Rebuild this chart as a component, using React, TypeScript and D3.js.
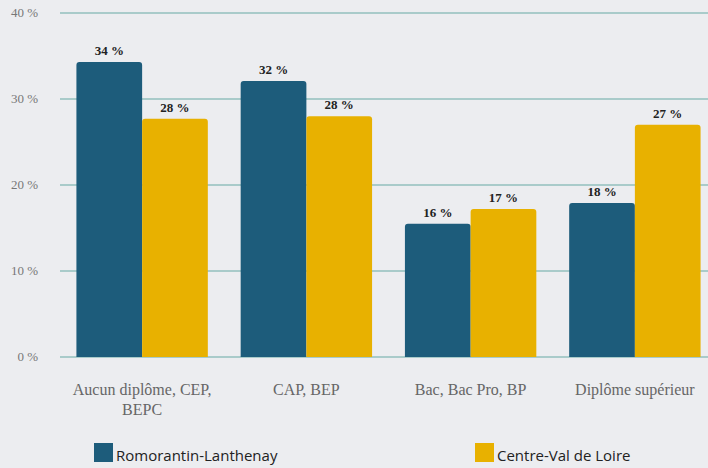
import React from 'react';
import * as d3 from 'd3';

const categories = ['Aucun diplôme, CEP, BEPC', 'CAP, BEP', 'Bac, Bac Pro, BP', 'Diplôme supérieur'];
const categoryLines = [['Aucun diplôme, CEP,', 'BEPC'], ['CAP, BEP'], ['Bac, Bac Pro, BP'], ['Diplôme supérieur']];
const seriesNames = ['Romorantin-Lanthenay', 'Centre-Val de Loire'];
const romorantin = [34.3, 32.1, 15.5, 17.9];
const centreVal = [27.7, 28.0, 17.2, 27.0];
const romorantinLabels = ['34 %', '32 %', '16 %', '18 %'];
const centreValLabels = ['28 %', '28 %', '17 %', '27 %'];
const yTicks = [0, 10, 20, 30, 40];

const W = 708;
const H = 468;
const colors = ['#1d5c7b', '#e8b100'];
const serif = '"Liberation Serif", "Times New Roman", serif';

function topRoundedRect(x: number, y: number, w: number, h: number, r: number) {
  const p = d3.path();
  p.moveTo(x, y + h);
  p.lineTo(x, y + r);
  p.arcTo(x, y, x + r, y, r);
  p.lineTo(x + w - r, y);
  p.arcTo(x + w, y, x + w, y + r, r);
  p.lineTo(x + w, y + h);
  p.closePath();
  return p.toString();
}

export default function App() {
  const y = d3.scaleLinear().domain([0, 40]).range([357, 13]);
  const x0 = d3.scaleBand<string>().domain(categories).range([60, 717]).paddingInner(0.2).paddingOuter(0.1);
  const x1 = d3.scaleBand<number>().domain([0, 1]).range([0, x0.bandwidth()]);
  const series = [romorantin, centreVal];
  const labels = [romorantinLabels, centreValLabels];

  return (
    <svg width={W} height={H} style={{ position: 'absolute', left: 0, top: 0, background: '#ecedf0' }}>
      <rect x={0} y={0} width={W} height={H} fill="#ecedf0" />
      {yTicks.map(t => (
        <g key={t}>
          <line x1={60} x2={W} y1={y(t)} y2={y(t)} stroke="#a9cbca" strokeWidth={2} />
          <text x={38} y={y(t) + 4} textAnchor="end" style={{ fontFamily: serif }} fontSize={13} fill="#777">
            {t} %
          </text>
        </g>
      ))}
      {categories.map((c, i) => (
        <g key={c}>
          {series.map((s, k) => {
            const bx = (x0(c) ?? 0) + (x1(k) ?? 0);
            const by = y(s[i]);
            return (
              <g key={k}>
                <path d={topRoundedRect(bx, by, x1.bandwidth(), y(0) - by, 3)} fill={colors[k]} />
                <text x={bx + x1.bandwidth() / 2} y={by - 7} textAnchor="middle" style={{ fontFamily: serif }} fontWeight="bold" fontSize={13} fill="#222">
                  {labels[k][i]}
                </text>
              </g>
            );
          })}
          {categoryLines[i].map((ln, j) => (
            <text key={j} x={(x0(c) ?? 0) + x0.bandwidth() / 2} y={395 + j * 20} textAnchor="middle" style={{ fontFamily: serif }} fontSize={16} fill="#666">
              {ln}
            </text>
          ))}
        </g>
      ))}
      {seriesNames.map((n, k) => {
        const lx = k === 0 ? 94 : 475;
        return (
          <g key={n}>
            <rect x={lx} y={443} width={19} height={19} fill={colors[k]} />
            <text x={lx + 22} y={461} style={{ fontFamily: '"Open Sans", sans-serif' }} fontSize={15} fill="#222">
              {n}
            </text>
          </g>
        );
      })}
    </svg>
  );
}
